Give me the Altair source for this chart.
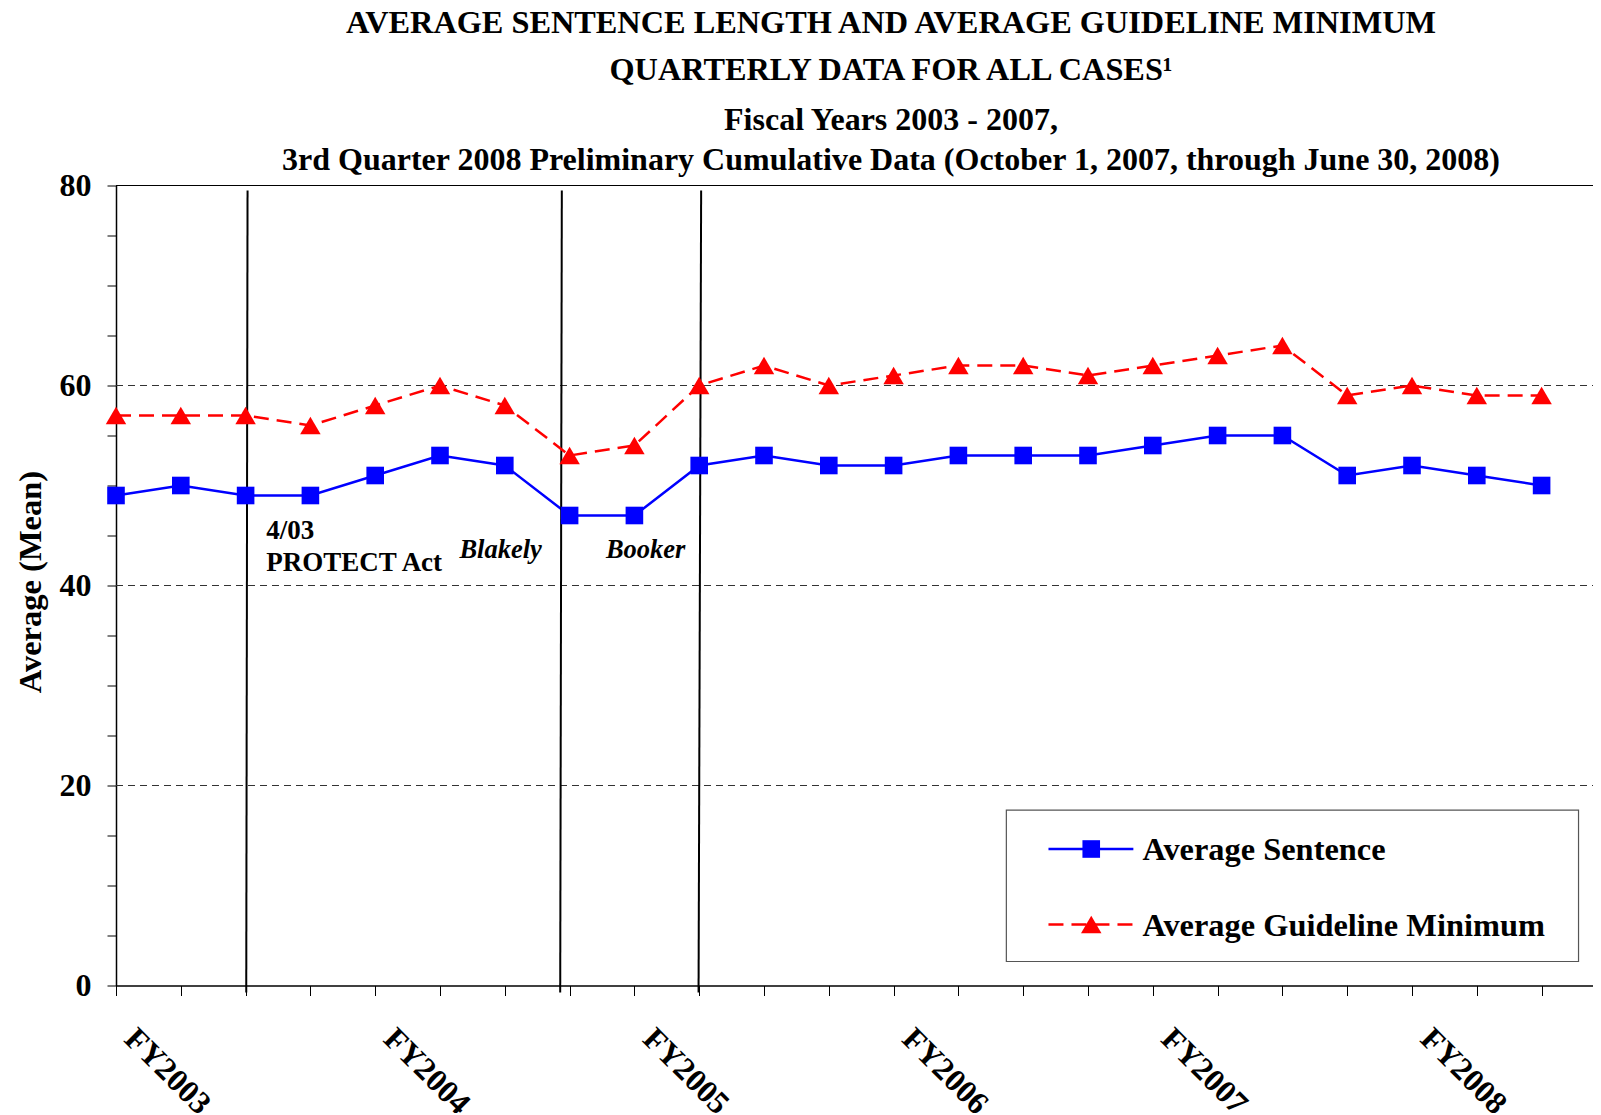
import altair as alt
import pandas as pd

# ---------------- data ----------------
quarter_index = list(range(23))  # FY2003 Q1 ... FY2008 Q3
avg_sentence = [49, 50, 49, 49, 51, 53, 52, 47, 47, 52, 53, 52,
                52, 53, 53, 53, 54, 55, 55, 51, 52, 51, 50]
avg_guideline = [57, 57, 57, 56, 58, 60, 58, 53, 54, 60, 62, 60,
                 61, 62, 62, 61, 62, 63, 64, 59, 60, 59, 59]
series_names = ["Average Sentence", "Average Guideline Minimum"]
fy_labels = ["FY2003", "FY2004", "FY2005", "FY2006", "FY2007", "FY2008"]
fy_index = [0, 4, 8, 12, 16, 20]
y_tick_values = list(range(0, 81, 5))
grid_values = [20, 40, 60]

event_top_x = [2.03, 6.88, 9.03]
event_bottom_x = [2.01, 6.855, 8.99]

annot_bold_text = ["4/03", "PROTECT Act"]
annot_bold_x = [2.32, 2.32]
annot_bold_y = [44.7, 41.5]
annot_ital_text = ["Blakely", "Booker"]
annot_ital_x = [5.30, 7.56]
annot_ital_y = [42.8, 42.8]

FONT = "Liberation Serif"
BLUE = "#0000FF"
RED = "#FF0000"
W, H = 1477, 800
X_MAX = W / 64.8

x_scale = alt.Scale(domain=[0, X_MAX], nice=False, zero=False)
y_scale = alt.Scale(domain=[0, 80], nice=False, zero=True)

label_arr = [""] * 23
for i, lab in zip(fy_index, fy_labels):
    label_arr[i] = lab
label_expr = "[" + ",".join("'%s'" % s for s in label_arr) + "][datum.value]"

x_axis = alt.Axis(
    values=quarter_index, labelExpr=label_expr, title=None, grid=False,
    labelAngle=45, labelAlign="left", labelBaseline="top",
    labelFont=FONT, labelFontSize=32, labelFontWeight="bold", labelColor="black",
    labelPadding=27, labelOffset=24, labelOverlap=False, labelFlush=False, labelBound=False,
    tickSize=10, tickColor="black", tickWidth=1,
    domainColor="black", domainWidth=1.5,
)
y_axis = alt.Axis(
    values=y_tick_values,
    labelExpr="datum.value % 20 == 0 ? datum.value : ''",
    grid=False, labelFont=FONT, labelFontSize=32, labelFontWeight="bold",
    labelColor="black", labelPadding=16, labelOverlap=False, labelFlush=False,
    tickSize=9, tickColor="black", tickWidth=1,
    domainColor="black", domainWidth=1.5,
    title="Average (Mean)", titleFont=FONT, titleFontSize=32.5, titleFontWeight="bold",
    titleColor="black", titleAngle=270, titleX=-76, titleY=396,
    titleAlign="center", titleBaseline="alphabetic",
)


def X(field):
    return alt.X(field, type="quantitative", scale=x_scale, axis=x_axis)


def Y(field):
    return alt.Y(field, type="quantitative", scale=y_scale, axis=y_axis)


df_s = pd.DataFrame({"q": quarter_index, "v": avg_sentence})
df_g = pd.DataFrame({"q": quarter_index, "v": avg_guideline})

# grid lines
grid_df = pd.DataFrame({"g": grid_values})
grid = alt.Chart(grid_df).mark_rule(color="#333333", strokeWidth=1.1, strokeDash=[7, 5]).encode(
    y=Y("g"), x=alt.value(0), x2=alt.value(W),
)
top_df = pd.DataFrame({"g": [80]})
top_line = alt.Chart(top_df).mark_rule(color="black", strokeWidth=1.2).encode(
    y=Y("g"), x=alt.value(0), x2=alt.value(W),
)

# event lines
ev_df = pd.DataFrame({"xt": event_top_x, "xb": event_bottom_x,
                      "yt": [79.5] * 3, "yb": [-0.7] * 3})
events = alt.Chart(ev_df).mark_rule(color="black", strokeWidth=2).encode(
    x=X("xt"), x2="xb:Q", y=Y("yt"), y2="yb:Q",
)

# series
line_s = alt.Chart(df_s).mark_line(color=BLUE, strokeWidth=2.5).encode(x=X("q"), y=Y("v"))
pts_s = alt.Chart(df_s).mark_point(shape="square", filled=True, size=310, color=BLUE, opacity=1).encode(
    x=X("q"), y=Y("v"))
line_g = alt.Chart(df_g).mark_line(color=RED, strokeWidth=2.5, strokeDash=[15, 8]).encode(x=X("q"), y=Y("v"))
pts_g = alt.Chart(df_g).mark_point(shape="triangle-up", filled=True, size=420, color=RED, opacity=1).encode(
    x=X("q"), y=Y("v"))

# annotations
ab_df = pd.DataFrame({"t": annot_bold_text, "x": annot_bold_x, "y": annot_bold_y})
annot_b = alt.Chart(ab_df).mark_text(font=FONT, fontSize=27, fontWeight="bold", color="black",
                                     align="left", baseline="alphabetic").encode(
    x=X("x"), y=Y("y"), text="t:N")
ai_df = pd.DataFrame({"t": annot_ital_text, "x": annot_ital_x, "y": annot_ital_y})
annot_i = alt.Chart(ai_df).mark_text(font=FONT, fontSize=26.5, fontWeight="bold", fontStyle="italic",
                                     color="black", align="left", baseline="alphabetic").encode(
    x=X("x"), y=Y("y"), text="t:N")

# legend (drawn in data coordinates)
box_df = pd.DataFrame({"x": [13.74], "x2": [22.57], "y": [17.53], "y2": [2.40]})
leg_box = alt.Chart(box_df).mark_rect(fill="white", stroke="#555555", strokeWidth=1.2).encode(
    x=X("x"), x2="x2:Q", y=Y("y"), y2="y2:Q")
leg_rows_y = [13.65, 6.1]
leg_text_y = [12.6, 4.93]
leg_df = pd.DataFrame({"name": series_names, "x1": [14.39] * 2, "x2": [15.70] * 2,
                       "xm": [15.05] * 2, "xt": [15.84] * 2, "y": leg_rows_y, "yt": leg_text_y})
leg_line_s = alt.Chart(leg_df.iloc[[0]]).mark_rule(color=BLUE, strokeWidth=2.5).encode(
    x=X("x1"), x2="x2:Q", y=Y("y"))
leg_line_g = alt.Chart(leg_df.iloc[[1]]).mark_rule(color=RED, strokeWidth=2.5, strokeDash=[15, 8]).encode(
    x=X("x1"), x2="x2:Q", y=Y("y"))
leg_pt_s = alt.Chart(leg_df.iloc[[0]]).mark_point(shape="square", filled=True, size=310, color=BLUE, opacity=1).encode(
    x=X("xm"), y=Y("y"))
leg_pt_g = alt.Chart(leg_df.iloc[[1]]).mark_point(shape="triangle-up", filled=True, size=420, color=RED, opacity=1).encode(
    x=X("xm"), y=Y("y"))
leg_text = alt.Chart(leg_df).mark_text(font=FONT, fontSize=32.4, fontWeight="bold", color="black",
                                       align="left", baseline="alphabetic").encode(
    x=X("xt"), y=Y("yt"), text="name:N")

chart = alt.layer(
    line_s, grid, top_line, events, line_g, pts_g, pts_s,
    annot_b, annot_i,
    leg_box, leg_line_s, leg_line_g, leg_pt_s, leg_pt_g, leg_text,
).properties(
    width=W, height=H,
    background="white",
    autosize=alt.AutoSizeParams(type="none"),
    padding={"left": 108, "top": 177.5, "right": 0, "bottom": 127},
    title=alt.TitleParams(
        text=["AVERAGE SENTENCE LENGTH AND AVERAGE GUIDELINE MINIMUM", "QUARTERLY DATA FOR ALL CASES\u00b9"],
        subtitle=["Fiscal Years 2003 - 2007,",
                  "3rd Quarter 2008 Preliminary Cumulative Data (October 1, 2007, through June 30, 2008)"],
        font=FONT, fontSize=32.3, fontWeight="bold", color="black", lineHeight=47,
        subtitleFont=FONT, subtitleFontSize=32, subtitleFontWeight="bold", subtitleColor="black",
        subtitleLineHeight=40, subtitlePadding=18,
        anchor="middle", dx=36.5, offset=-6,
    ),
).configure_view(stroke=None)

chart.save("out.html", embed_options={"renderer": "svg", "actions": False})
